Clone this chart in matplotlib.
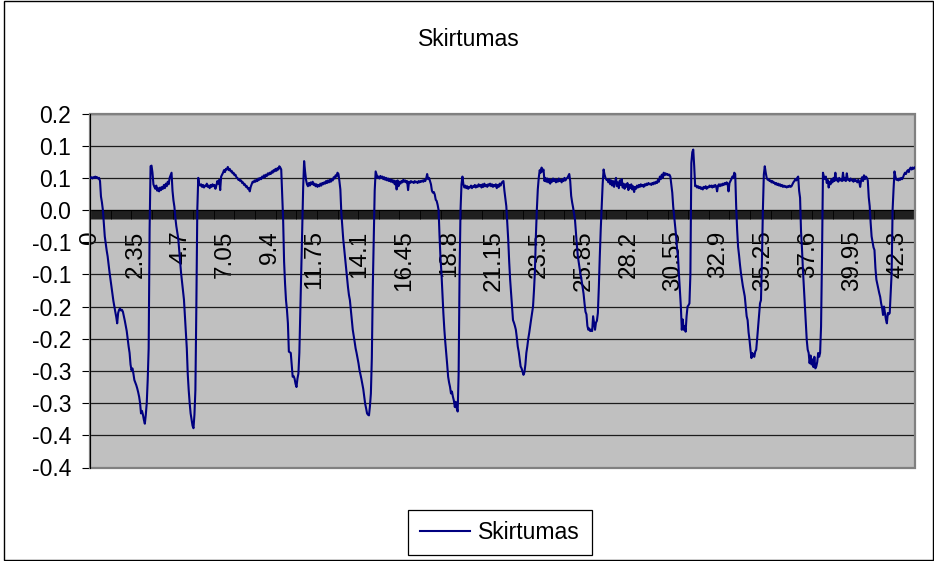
import numpy as np
import matplotlib
matplotlib.use("Agg")
import matplotlib.pyplot as plt
from matplotlib.patches import Rectangle
from matplotlib.ticker import FixedLocator

# Difference signal, one sample every 0.05 s, split into 5-second blocks
skirtumas_00_05 = [
    0.050, 0.051, 0.049, 0.051, 0.050, 0.052, 0.050, 0.051, 0.049, 0.050,
    0.045, 0.021, 0.012, 0.000, -0.020, -0.041, -0.052, -0.063, -0.072, -0.085,
    -0.097, -0.108, -0.120, -0.130, -0.141, -0.150, -0.158, -0.166, -0.176, -0.160,
    -0.155, -0.153, -0.156, -0.155, -0.158, -0.165, -0.172, -0.180, -0.188, -0.200,
    -0.212, -0.222, -0.240, -0.249, -0.246, -0.254, -0.264, -0.268, -0.272, -0.277,
    -0.283, -0.290, -0.300, -0.316, -0.312, -0.318, -0.326, -0.332, -0.318, -0.300,
    -0.264, -0.215, -0.030, 0.068, 0.069, 0.058, 0.040, 0.036, 0.033, 0.038,
    0.030, 0.034, 0.029, 0.035, 0.031, 0.036, 0.033, 0.039, 0.034, 0.041,
    0.037, 0.044, 0.040, 0.050, 0.054, 0.058, 0.030, 0.015, 0.005, -0.012,
    -0.025, -0.035, -0.044, -0.062, -0.080, -0.098, -0.112, -0.125, -0.139, -0.165,
]
skirtumas_05_10 = [
    -0.190, -0.215, -0.255, -0.280, -0.300, -0.316, -0.325, -0.335, -0.339, -0.318,
    -0.280, -0.150, 0.000, 0.050, 0.040, 0.038, 0.040, 0.036, 0.039, 0.035,
    0.038, 0.037, 0.041, 0.036, 0.038, 0.034, 0.039, 0.036, 0.040, 0.037,
    0.039, 0.033, 0.038, 0.045, 0.041, 0.047, 0.031, 0.052, 0.055, 0.058,
    0.062, 0.059, 0.064, 0.063, 0.067, 0.062, 0.064, 0.060, 0.061, 0.057,
    0.058, 0.054, 0.055, 0.051, 0.050, 0.047, 0.048, 0.045, 0.046, 0.042,
    0.043, 0.039, 0.040, 0.036, 0.037, 0.033, 0.034, 0.029, 0.036, 0.040,
    0.044, 0.043, 0.046, 0.044, 0.047, 0.045, 0.049, 0.047, 0.050, 0.048,
    0.052, 0.050, 0.054, 0.051, 0.055, 0.053, 0.057, 0.055, 0.058, 0.056,
    0.060, 0.058, 0.062, 0.060, 0.064, 0.061, 0.065, 0.063, 0.068, 0.066,
]
skirtumas_10_15 = [
    0.063, 0.025, -0.015, -0.080, -0.114, -0.140, -0.155, -0.176, -0.220, -0.221,
    -0.222, -0.240, -0.259, -0.258, -0.262, -0.270, -0.275, -0.262, -0.254, -0.222,
    -0.160, -0.098, -0.030, 0.035, 0.076, 0.060, 0.047, 0.040, 0.037, 0.042,
    0.038, 0.043, 0.040, 0.044, 0.039, 0.041, 0.037, 0.040, 0.036, 0.039,
    0.037, 0.041, 0.038, 0.042, 0.040, 0.043, 0.041, 0.045, 0.042, 0.046,
    0.043, 0.047, 0.044, 0.048, 0.046, 0.051, 0.049, 0.054, 0.052, 0.058,
    0.056, 0.045, 0.032, -0.004, -0.025, -0.045, -0.060, -0.075, -0.090, -0.105,
    -0.120, -0.132, -0.140, -0.155, -0.170, -0.186, -0.195, -0.205, -0.215, -0.222,
    -0.230, -0.238, -0.248, -0.255, -0.262, -0.270, -0.278, -0.290, -0.301, -0.308,
    -0.316, -0.318, -0.319, -0.305, -0.285, -0.230, -0.120, -0.046, 0.030, 0.060,
]
skirtumas_15_20 = [
    0.055, 0.050, 0.052, 0.049, 0.053, 0.050, 0.052, 0.048, 0.051, 0.047,
    0.050, 0.046, 0.049, 0.045, 0.048, 0.044, 0.047, 0.043, 0.046, 0.040,
    0.045, 0.032, 0.046, 0.037, 0.044, 0.041, 0.045, 0.043, 0.047, 0.044,
    0.046, 0.043, 0.045, 0.031, 0.044, 0.042, 0.045, 0.043, 0.044, 0.042,
    0.045, 0.043, 0.044, 0.042, 0.045, 0.043, 0.045, 0.044, 0.046, 0.044,
    0.047, 0.045, 0.049, 0.056, 0.048, 0.050, 0.045, 0.040, 0.030, 0.027,
    0.028, 0.024, 0.016, 0.014, 0.008, 0.000, -0.041, -0.075, -0.098, -0.130,
    -0.160, -0.185, -0.205, -0.222, -0.240, -0.259, -0.268, -0.275, -0.285, -0.282,
    -0.290, -0.296, -0.306, -0.298, -0.308, -0.313, -0.254, -0.098, 0.000, 0.040,
    0.052, 0.040, 0.035, 0.038, 0.034, 0.037, 0.033, 0.036, 0.035, 0.038,
]
skirtumas_20_25 = [
    0.034, 0.037, 0.036, 0.039, 0.035, 0.038, 0.036, 0.040, 0.037, 0.039,
    0.035, 0.040, 0.036, 0.041, 0.037, 0.039, 0.036, 0.040, 0.038, 0.041,
    0.037, 0.040, 0.036, 0.039, 0.037, 0.040, 0.034, 0.039, 0.036, 0.041,
    0.038, 0.042, 0.044, 0.045, 0.030, 0.018, 0.006, -0.020, -0.046, -0.080,
    -0.108, -0.130, -0.150, -0.171, -0.175, -0.180, -0.186, -0.198, -0.212, -0.220,
    -0.232, -0.243, -0.246, -0.251, -0.256, -0.252, -0.240, -0.222, -0.212, -0.200,
    -0.191, -0.180, -0.170, -0.160, -0.150, -0.125, -0.095, -0.040, 0.000, 0.032,
    0.050, 0.062, 0.058, 0.066, 0.060, 0.063, 0.045, 0.050, 0.044, 0.049,
    0.043, 0.048, 0.041, 0.047, 0.044, 0.049, 0.045, 0.048, 0.043, 0.047,
    0.044, 0.049, 0.045, 0.047, 0.043, 0.048, 0.045, 0.050, 0.046, 0.049,
]
skirtumas_25_30 = [
    0.050, 0.053, 0.056, 0.045, 0.022, 0.012, 0.004, -0.005, -0.015, -0.035,
    -0.055, -0.072, -0.082, -0.092, -0.102, -0.110, -0.120, -0.130, -0.145, -0.158,
    -0.162, -0.180, -0.186, -0.184, -0.188, -0.186, -0.188, -0.165, -0.176, -0.186,
    -0.175, -0.172, -0.160, -0.120, -0.072, -0.030, 0.004, 0.040, 0.063, 0.055,
    0.050, 0.047, 0.047, 0.043, 0.048, 0.040, 0.046, 0.038, 0.045, 0.036,
    0.044, 0.050, 0.037, 0.043, 0.034, 0.046, 0.039, 0.048, 0.035, 0.041,
    0.033, 0.040, 0.036, 0.042, 0.031, 0.039, 0.034, 0.040, 0.032, 0.037,
    0.028, 0.036, 0.033, 0.038, 0.035, 0.039, 0.036, 0.040, 0.037, 0.039,
    0.036, 0.040, 0.038, 0.041, 0.039, 0.042, 0.040, 0.041, 0.039, 0.042,
    0.040, 0.043, 0.041, 0.044, 0.042, 0.047, 0.044, 0.052, 0.048, 0.055,
]
skirtumas_30_35 = [
    0.050, 0.058, 0.054, 0.057, 0.055, 0.056, 0.054, 0.055, 0.052, 0.040,
    0.027, 0.005, -0.010, -0.025, -0.040, -0.060, -0.072, -0.100, -0.124, -0.150,
    -0.186, -0.170, -0.186, -0.180, -0.189, -0.165, -0.150, -0.148, -0.145, -0.100,
    0.073, 0.090, 0.094, 0.068, 0.037, 0.038, 0.035, 0.037, 0.034, 0.036,
    0.033, 0.035, 0.032, 0.036, 0.034, 0.037, 0.033, 0.036, 0.035, 0.038,
    0.036, 0.038, 0.035, 0.038, 0.036, 0.039, 0.037, 0.029, 0.038, 0.040,
    0.037, 0.040, 0.038, 0.041, 0.039, 0.042, 0.040, 0.043, 0.041, 0.029,
    0.042, 0.045, 0.048, 0.052, 0.050, 0.058, 0.056, 0.006, -0.030, -0.057,
    -0.070, -0.085, -0.098, -0.108, -0.118, -0.126, -0.134, -0.150, -0.165, -0.171,
    -0.190, -0.202, -0.217, -0.230, -0.222, -0.226, -0.228, -0.220, -0.217, -0.200,
]
skirtumas_35_40 = [
    -0.181, -0.160, -0.145, -0.140, -0.080, 0.000, 0.055, 0.068, 0.058, 0.050,
    0.047, 0.048, 0.045, 0.046, 0.043, 0.045, 0.042, 0.043, 0.040, 0.042,
    0.039, 0.041, 0.038, 0.040, 0.037, 0.039, 0.036, 0.038, 0.036, 0.037,
    0.035, 0.037, 0.036, 0.038, 0.036, 0.037, 0.040, 0.043, 0.045, 0.048,
    0.046, 0.050, 0.052, 0.030, 0.019, -0.033, -0.060, -0.093, -0.120, -0.150,
    -0.175, -0.202, -0.217, -0.222, -0.238, -0.226, -0.240, -0.232, -0.244, -0.228,
    -0.246, -0.243, -0.236, -0.222, -0.228, -0.222, -0.181, -0.072, 0.058, 0.052,
    0.048, 0.052, 0.042, 0.047, 0.035, 0.044, 0.040, 0.048, 0.043, 0.050,
    0.045, 0.058, 0.046, 0.049, 0.044, 0.050, 0.046, 0.048, 0.045, 0.058,
    0.046, 0.050, 0.045, 0.057, 0.047, 0.048, 0.045, 0.049, 0.046, 0.047,
]
skirtumas_40_45 = [
    0.044, 0.048, 0.045, 0.046, 0.043, 0.047, 0.044, 0.036, 0.046, 0.051,
    0.045, 0.054, 0.048, 0.052, 0.050, 0.046, 0.020, 0.006, -0.020, -0.041,
    -0.050, -0.058, -0.062, -0.090, -0.108, -0.115, -0.122, -0.129, -0.135, -0.145,
    -0.152, -0.163, -0.150, -0.160, -0.170, -0.176, -0.160, -0.162, -0.160, -0.130,
    -0.098, 0.000, 0.032, 0.060, 0.052, 0.047, 0.048, 0.046, 0.049, 0.047,
    0.050, 0.048, 0.051, 0.055, 0.058, 0.056, 0.060, 0.062, 0.059, 0.064,
    0.066, 0.063, 0.066, 0.064, 0.066,
]

series_name = "Skirtumas"
sample_step = 0.05
label_every = 47
x_tick_labels = ["0", "2.35", "4.7", "7.05", "9.4", "11.75", "14.1", "16.45",
                 "18.8", "21.15", "23.5", "25.85", "28.2", "30.55", "32.9",
                 "35.25", "37.6", "39.95", "42.3"]
y_ticks = [0.15, 0.10, 0.05, 0.00, -0.05, -0.10, -0.15, -0.20, -0.25, -0.30,
           -0.35, -0.40]
y_tick_labels = ["0.2", "0.1", "0.1", "0.0", "-0.1", "-0.1", "-0.2", "-0.2",
                 "-0.3", "-0.3", "-0.4", "-0.4"]

values = np.array(skirtumas_00_05 + skirtumas_05_10 + skirtumas_10_15 +
                  skirtumas_15_20 + skirtumas_20_25 + skirtumas_25_30 +
                  skirtumas_30_35 + skirtumas_35_40 + skirtumas_40_45)
t = np.arange(len(values)) * sample_step

plt.rcParams['font.family'] = ['Liberation Sans', 'DejaVu Sans']
W, H = 934, 561
fig = plt.figure(figsize=(W / 100, H / 100), dpi=100)
fig.patch.set_facecolor('white')

ax = fig.add_axes([90 / W, 1 - 467.5 / H, 825 / W, 354 / H])
ax.set_facecolor('#C0C0C0')
ax.set_axisbelow('line')

line, = ax.plot(t, values, color='#000080', lw=1.5, zorder=3, label=series_name)

ax.set_xlim(t[0] - sample_step / 2, t[-1] + sample_step / 2)
ax.set_ylim(min(y_ticks), max(y_ticks))

# y axis: ticks every 0.05 with one-decimal labels
ax.yaxis.set_major_locator(FixedLocator(y_ticks))
ax.set_yticklabels(y_tick_labels)
ax.tick_params(axis='y', which='major', direction='out', length=6, width=0.8,
               color='black', pad=7.5, labelsize=16.5)
ax.yaxis.grid(True, color='#1c1c1c', lw=0.9)

# category axis crossing at zero, a tick for every sample
ax.spines['bottom'].set_position(('data', 0))
ax.spines['bottom'].set_color('black')
ax.spines['bottom'].set_linewidth(0.8)
ax.spines['bottom'].set_zorder(1.6)
ax.xaxis.set_major_locator(FixedLocator(t[::label_every]))
ax.set_xticklabels(x_tick_labels, rotation=90, va='top', ha='center')
ax.xaxis.set_minor_locator(FixedLocator(t))
ax.tick_params(axis='x', which='both', direction='out', length=6.2, width=0.6,
               color='black')
ax.tick_params(axis='x', which='major', pad=8.5, labelsize=17.5)

ax.spines['left'].set_color('black')
ax.spines['left'].set_linewidth(0.8)
ax.spines['left'].set_zorder(2.6)
for side in ('top', 'right'):
    ax.spines[side].set_visible(False)
ax.add_patch(Rectangle((0, 0), 1, 1, transform=ax.transAxes, fill=False,
                       edgecolor='#808080', lw=1.6, clip_on=False, zorder=2.4))

fig.text(468.5 / W, 1 - 40 / H, series_name, ha='center', va='center',
         fontsize=16.5, color='black')

leg = fig.legend(handles=[line], loc='center',
                 bbox_to_anchor=(500 / W, 1 - 532.5 / H),
                 fontsize=16.5, frameon=True, fancybox=False, framealpha=1,
                 edgecolor='black', handlelength=2.2, handletextpad=0.35,
                 borderpad=0.5)
leg.get_frame().set_linewidth(0.9)

fig.patches.append(Rectangle((4 / W, 1 / H), 929 / W, 559 / H,
                             transform=fig.transFigure, fill=False,
                             edgecolor='black', lw=1.0))

fig.savefig('out.png', dpi=100)
